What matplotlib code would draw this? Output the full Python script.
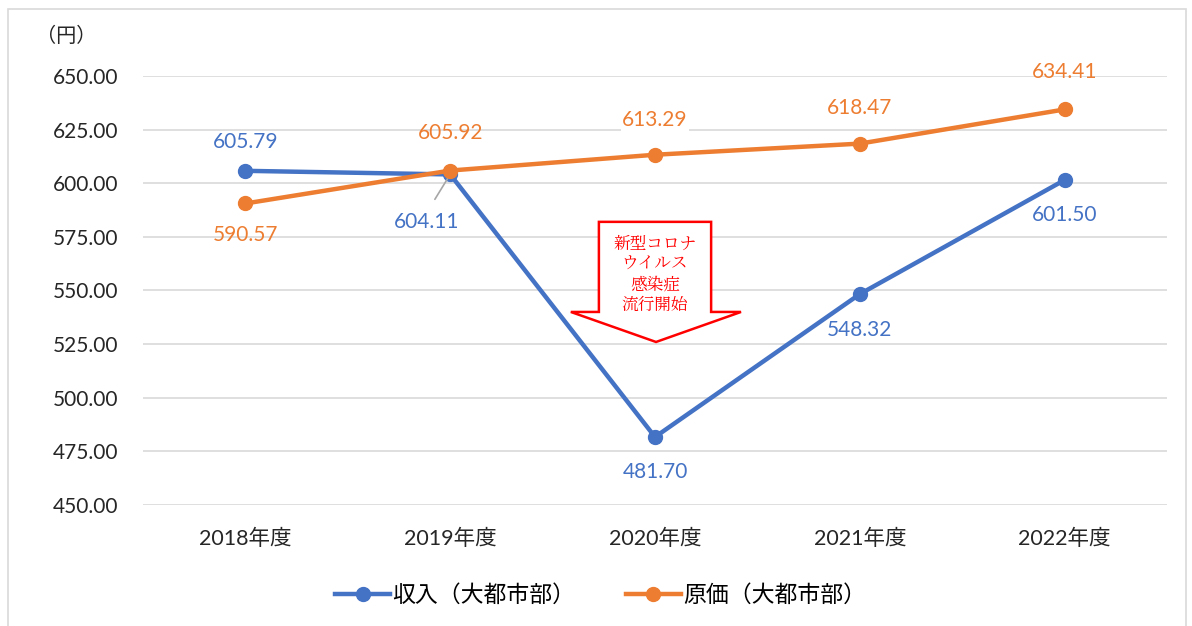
import matplotlib.pyplot as plt
from matplotlib.patches import Polygon, Rectangle

plt.rcParams['font.family'] = ['Lato', 'Noto Sans CJK JP', 'DejaVu Sans']

# Data
years = ["2018年度", "2019年度", "2020年度", "2021年度", "2022年度"]
income = [605.79, 604.11, 481.70, 548.32, 601.50]
cost = [590.57, 605.92, 613.29, 618.47, 634.41]
income_name = "収入（大都市部）"
cost_name = "原価（大都市部）"
yticks = [450, 475, 500, 525, 550, 575, 600, 625, 650]

blue = "#4472C4"
orange = "#ED7D31"

fig = plt.figure(figsize=(11.92, 6.26), dpi=100)
ax = fig.add_axes([0.12, 0.1933, 0.859, 0.6853])

x = list(range(len(years)))
ax.plot(x, income, color=blue, lw=3.2, marker="o", ms=10, label=income_name, zorder=3)
ax.plot(x, cost, color=orange, lw=3.2, marker="o", ms=10, label=cost_name, zorder=4)

ax.set_xlim(-0.5, len(years) - 0.5)
ax.set_ylim(450, 650)
ax.set_yticks(yticks)
ax.set_yticklabels([f"{v:.2f}" for v in yticks])
ax.set_xticks(x)
ax.set_xticklabels(years)
ax.tick_params(axis="y", length=0, pad=18, labelsize=15, labelcolor="#262626")
ax.tick_params(axis="x", length=0, pad=17, labelsize=15.5, labelcolor="#262626")
ax.grid(axis="y", color="#d9d9d9", lw=1.2)
ax.set_axisbelow(True)
for s in ax.spines.values():
    s.set_visible(False)

# data label offsets in points (x, y)
inc_off = [(0, 21), (-17, -34), (0, -25), (0, -26), (0, -25)]
cost_off = [(0, -23), (0, 27), (0, 25), (0, 26), (0, 27)]
for i in range(len(years)):
    ax.annotate(f"{income[i]:.2f}", (x[i], income[i]), xytext=inc_off[i],
                textcoords="offset points", ha="center", va="center",
                color=blue, fontsize=15)
    bbox = dict(facecolor="white", edgecolor="none", pad=1) if i == 2 else None
    ax.annotate(f"{cost[i]:.2f}", (x[i], cost[i]), xytext=cost_off[i],
                textcoords="offset points", ha="center", va="center",
                color=orange, fontsize=15, bbox=bbox)

# leader line for 2019 income label
ax.annotate("", (x[1] - 0.01, income[1] - 1.5), xytext=(x[1] - 0.075, 592.5),
            arrowprops=dict(arrowstyle="-", color="#a6a6a6", lw=1.2, shrinkA=0, shrinkB=0))

# red block arrow
arrow = Polygon([(1.726, 582), (2.274, 582), (2.274, 540), (2.42, 540),
                 (2.005, 526), (1.589, 540), (1.726, 540)],
                closed=True, facecolor="white", edgecolor="red", lw=1.8, zorder=5)
ax.add_patch(arrow)
ax.text(2.0, 557.5, "新型コロナ\nウイルス\n感染症\n流行開始", ha="center", va="center",
        color="red", fontsize=12, linespacing=1.22, zorder=6,
        family=["Noto Serif CJK JP", "Noto Sans CJK JP"])

fig.text(0.03, 0.944, "（円）", fontsize=14.5, color="#262626", va="center")

leg = ax.legend(loc="center", bbox_to_anchor=(0.447, -0.21), ncol=2, frameon=False,
                fontsize=16.5, handlelength=2.4, columnspacing=2.2, handletextpad=0.1)

fig.patches.append(Rectangle((0.007, -0.01), 0.988, 0.995, transform=fig.transFigure,
                             fill=False, edgecolor="#d9d9d9", lw=1.2))

fig.savefig("out.png", dpi=100)
